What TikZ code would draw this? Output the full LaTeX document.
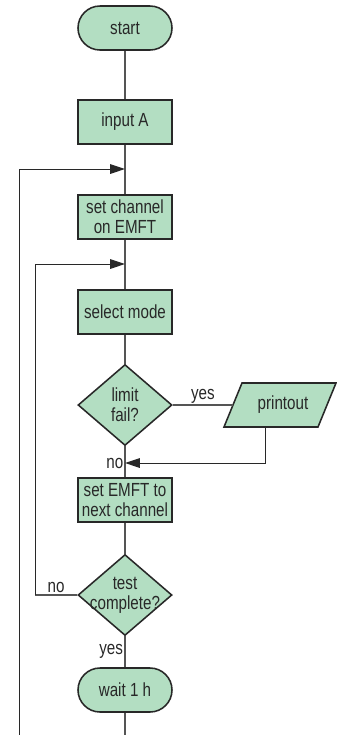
\documentclass[tikz,border=0pt]{standalone}
\usepackage{fontspec}
\setmainfont{Liberation Sans}[FakeStretch=0.8]
\usepackage{tikz}
\usetikzlibrary{shapes.geometric}
\usetikzlibrary{arrows.meta}
\definecolor{boxgreen}{RGB}{179,222,194}
\definecolor{ink}{RGB}{40,40,40}
\definecolor{wire}{RGB}{85,85,85}
\tikzset{
  box/.style={draw=ink, line width=1.1pt, fill=boxgreen, text=ink, align=center,
    minimum width=23.5mm, minimum height=11mm, inner sep=0pt},
  term/.style={box, rounded corners=5.5mm},
  decision/.style={box, shape=diamond, minimum width=23.5mm, minimum height=20.25mm},
  wire/.style={draw=wire, line width=0.8pt},
  arr/.style={draw=ink, line width=0.7pt, -{Triangle[length=3.7mm, width=2.4mm]}},
  lbl/.style={text=ink, inner sep=1pt}
}

\begin{document}
\begin{tikzpicture}[x=0.25mm, y=-0.25mm, font=\fontsize{13.5}{14.2}\selectfont]
\useasboundingbox (0, 0) rectangle (336, 735);
\node[term] (start) at (125, 28) {start};
\node[box] (input) at (125, 122) {input A};
\node[box] (chan) at (125, 217) {set channel\\on EMFT};
\node[box] (mode) at (125, 312) {select mode};
\node[decision, label={[text=ink, align=center]center:limit\\fail?}] (limit) at (125, 405) {};
\node[box] (next) at (125, 500) {set EMFT to\\next channel};
\node[decision, label={[text=ink, align=center]center:test\\complete?}] (test) at (125, 595) {};
\node[term] (wait) at (125, 690) {wait 1 h};
% printout
\filldraw[draw=ink, line width=1.1pt, fill=boxgreen]
  (224, 427) -- (242, 383) -- (336, 383) -- (318, 427) -- cycle;
\node[text=ink] (printout) at (283, 405) {printout};
\coordinate (pl) at (233, 405);
\coordinate (pb) at (265, 427);
% joins
\coordinate (j1) at (125, 169);
\coordinate (j2) at (125, 264);
\coordinate (j3) at (125, 463);
\coordinate (outer) at (19, 735);
\coordinate (inner) at (35, 595);
\coordinate (down) at (125, 735);
\draw[wire] (start) -- (input);
\draw[wire] (input) -- (chan);
\draw[wire] (chan) -- (mode);
\draw[wire] (mode) -- (limit);
\draw[wire] (limit.east) -- node[lbl, above] {yes} (pl);
\draw[wire] (limit) -- (next);
\draw[wire] (next) -- (test);
\draw[wire] (test) -- node[lbl, left] {yes} (wait);
\draw[wire] (wait) -- (down);
\draw[arr] (pb) |- (j3);
\node[lbl, left] at (j3) {no};
\draw[wire] (test.west) -- node[lbl, above] {no} (inner);
\draw[arr] (inner) |- (j2);
\draw[arr] (outer) |- (j1);
\end{tikzpicture}
\end{document}
